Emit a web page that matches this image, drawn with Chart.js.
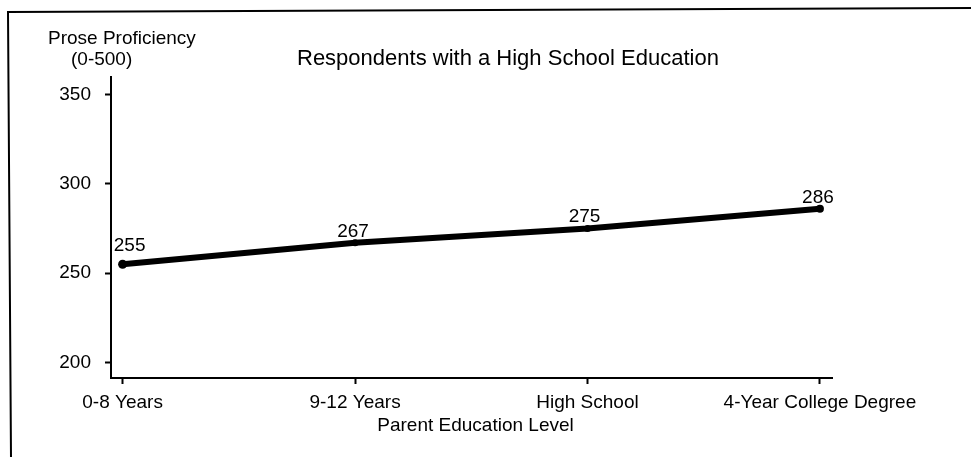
<!DOCTYPE html>
<html>
<head>
<meta charset="utf-8">
<title>Prose Proficiency by Parent Education Level</title>
<script src="https://cdn.jsdelivr.net/npm/chart.js@4/dist/chart.umd.min.js"></script>
<style>
  html, body { margin: 0; padding: 0; background: #fff; }
  #chart { display: block; }
</style>
</head>
<body>
<canvas id="chart" width="971" height="457"></canvas>
<script>
// Chart data
const categories = ['0-8 Years', '9-12 Years', 'High School', '4-Year College Degree'];
const proficiency = [255, 267, 275, 286];
const yTicks = [200, 250, 300, 350];

const FONT = "'Liberation Sans', Arial, Helvetica, sans-serif";
const INK = '#000';

Chart.defaults.font.family = FONT;
Chart.defaults.font.size = 19;
Chart.defaults.color = INK;

// Frame, titles and axis caption drawn on the canvas
const textPlugin = {
  id: 'texts',
  beforeDraw(chart) {
    const ctx = chart.ctx;
    ctx.save();
    ctx.fillStyle = '#fff';
    ctx.fillRect(0, 0, chart.width, chart.height);
    // scanned page frame (top and left only)
    ctx.strokeStyle = INK;
    ctx.lineWidth = 2;
    ctx.beginPath();
    ctx.moveTo(971, 8);
    ctx.lineTo(8, 12);
    ctx.lineTo(11, 457);
    ctx.stroke();
    ctx.restore();
  },
  afterDraw(chart) {
    const ctx = chart.ctx;
    const area = chart.chartArea;
    ctx.save();
    ctx.fillStyle = INK;
    ctx.textBaseline = 'alphabetic';
    ctx.font = '19px ' + FONT;
    ctx.textAlign = 'left';
    ctx.fillText('Prose Proficiency', 48, 44);
    ctx.fillText('(0-500)', 71, 65);
    ctx.font = '22px ' + FONT;
    ctx.fillText('Respondents with a High School Education', 297, 65);
    ctx.font = '19px ' + FONT;
    ctx.textAlign = 'center';
    ctx.fillText('Parent Education Level', (area.left + area.right) / 2 + 4, 431);
    ctx.restore();
  }
};

// Value labels above each point
const valueLabels = {
  id: 'valueLabels',
  afterDatasetsDraw(chart, args, opts) {
    const ctx = chart.ctx;
    const meta = chart.getDatasetMeta(0);
    ctx.save();
    ctx.fillStyle = INK;
    ctx.font = '19px ' + FONT;
    ctx.textAlign = 'center';
    ctx.textBaseline = 'alphabetic';
    meta.data.forEach((pt, i) => {
      const off = opts.offsets[i] || [0, -6];
      ctx.fillText(String(proficiency[i]), pt.x + off[0], pt.y + off[1]);
    });
    ctx.restore();
  }
};

new Chart(document.getElementById('chart'), {
  type: 'line',
  data: {
    datasets: [{
      data: proficiency.map((v, i) => ({ x: i, y: v })),
      borderColor: INK,
      backgroundColor: INK,
      borderWidth: 6,
      pointRadius: [4.5, 3.5, 3.5, 4],
      pointBorderWidth: 0,
      pointHoverRadius: 4,
      tension: 0,
      fill: false
    }]
  },
  options: {
    responsive: false,
    animation: false,
    events: [],
    layout: {
      padding: { left: 41, right: 139, top: 77, bottom: 39 }
    },
    scales: {
      x: {
        type: 'linear',
        min: -0.05,
        max: 3.052,
        afterBuildTicks: scale => {
          scale.ticks = categories.map((_, i) => ({ value: i }));
        },
        afterFit: scale => { scale.height = 40; },
        ticks: {
          autoSkip: false,
          maxRotation: 0,
          padding: 7,
          color: INK,
          callback: value => categories[value]
        },
        grid: {
          drawOnChartArea: false,
          drawTicks: true,
          tickLength: 6,
          tickWidth: 2,
          tickColor: INK
        },
        border: { display: true, color: INK, width: 2 }
      },
      y: {
        min: 191.4,
        max: 359.7,
        afterBuildTicks: scale => {
          scale.ticks = yTicks.map(v => ({ value: v }));
        },
        afterFit: scale => { scale.width = 70; },
        ticks: {
          padding: 14,
          color: INK
        },
        grid: {
          drawOnChartArea: false,
          drawTicks: true,
          tickLength: 6,
          tickWidth: 2,
          tickColor: INK
        },
        border: { display: true, color: INK, width: 2 }
      }
    },
    plugins: {
      legend: { display: false },
      tooltip: { enabled: false },
      valueLabels: {
        offsets: [[7, -13], [-2, -6], [-3, -6], [-2, -6]]
      }
    }
  },
  plugins: [textPlugin, valueLabels]
});
</script>
</body>
</html>
